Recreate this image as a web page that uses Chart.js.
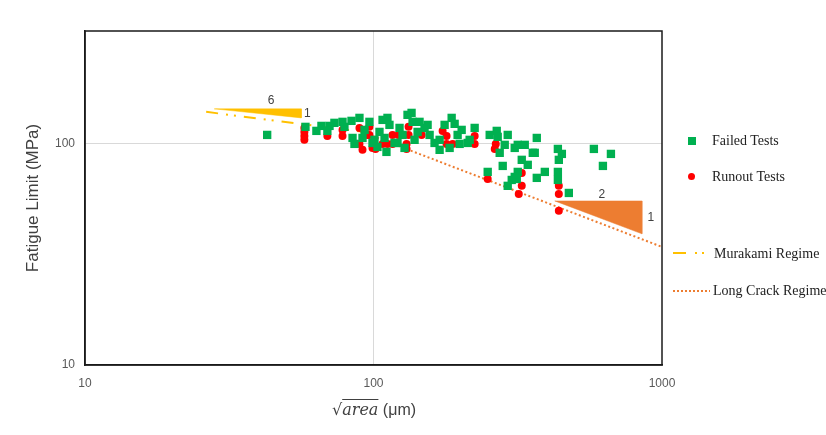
<!DOCTYPE html>
<html><head><meta charset="utf-8">
<script src="https://cdn.jsdelivr.net/npm/chart.js@4/dist/chart.umd.min.js"></script>
<style>
body{margin:0;background:#fff;}
#wrap{position:relative;width:826px;height:435px;overflow:hidden;}
canvas{position:absolute;left:0;top:0;}
.lg{position:absolute;font-family:'Liberation Serif',serif;font-size:14px;color:#222;line-height:16px;white-space:nowrap;}
.sym{position:absolute;}
#xt{position:absolute;left:332px;top:400px;font-family:'Liberation Sans',sans-serif;font-size:16px;color:#404040;white-space:nowrap;line-height:20px;}
</style></head>
<body><div id="wrap">
<canvas id="c" width="826" height="435"></canvas>
<div class="sym" style="left:688px;top:137px;width:8px;height:8px;background:#00B050"></div>
<div class="lg" style="left:712px;top:133px">Failed Tests</div>
<div class="sym" style="left:688px;top:173px;width:7px;height:7px;border-radius:50%;background:#FF0000"></div>
<div class="lg" style="left:712px;top:169px">Runout Tests</div>
<svg class="sym" style="left:670px;top:248px" width="44" height="10"><line x1="3" y1="5" x2="40" y2="5" stroke="#FFC000" stroke-width="2" stroke-dasharray="13,9,2,5,2,20"/></svg>
<div class="lg" style="left:714px;top:246px">Murakami Regime</div>
<svg class="sym" style="left:670px;top:286px" width="44" height="10"><line x1="3" y1="5" x2="40" y2="5" stroke="#ED7D31" stroke-width="2" stroke-dasharray="2,2"/></svg>
<div class="lg" style="left:713px;top:283px">Long Crack Regime</div>
<div id="xt"><span style="font-family:'DejaVu Serif',serif;">√</span><span style="font-family:'DejaVu Serif',serif;font-style:italic;text-decoration:overline;">area</span> (μm)</div>
</div>
<script>
// ---- data ----
const failedSize = [42.8,58.1,63.4,66.0,70.4,69.2,73.2,78.1,79.3,83.9,89.4,96.8,93.1,85.9,84.6,91.6,99.2,
  107.5,111.8,113.6,104.9,100.8,109.2,110.9,103.2,126.1,123.1,131.2,135.5,136.6,144.4,150.3,154.0,142.2,121.1,118.3,128.1,138.8,
  156.5,162.8,169.5,169.5,176.4,186.6,191.1,183.6,195.7,202.1,198.9,212.1,215.4,224.2,252.8,267.4,269.5,291.9,285.0,273.8,
  308.7,316.2,334.4,368.1,362.2,356.5,326.5,342.5,280.5,248.8,316.2,308.7,301.4,313.7,291.9,368.1,392.5,
  435.6,449.7,438.9,435.6,435.6,475.5,580.6,665.2,624.0];
const failedLimit = [109.8,119.4,114.5,120.6,120.6,114.5,124.5,125.8,119.4,127.1,131.1,125.8,115.7,100,106.4,106.4,101.0,
  128.4,131.1,121.9,113.3,104.3,106.4,92.0,96.9,109.8,118.1,135.3,138.1,125.8,125.8,118.1,121.9,113.3,101.0,101.0,95.9,104.3,
  109.8,101.0,94.0,104.3,121.9,131.1,123.2,95.9,109.8,115.7,100,101.0,104.3,118.1,109.8,114.5,107.6,109.8,99.0,91.1,
  95.9,99.0,99.0,106.4,91.1,91.1,84.7,80.4,79.5,74.7,74.7,70.9,68.7,69.4,64.6,70.2,74.7,
  94.9,90.1,84.7,74.7,68.7,60.0,94.9,90.1,79.5];
const runoutSize = [57.6,57.6,57.6,57.6,69.2,78.1,78.1,89.4,96.8,95.3,89.4,91.6,99.2,96.8,101.6,107.5,111.8,116.4,116.4,122.1,
  132.3,132.3,130.2,130.2,146.8,173.6,179.2,179.2,188.1,224.2,224.2,265.3,263.2,248.8,326.5,326.5,318.8,438.9,438.9,438.9];
const runoutLimit = [118.1,113.3,108.7,104.3,108.7,115.7,108.7,118.1,119.4,109.8,100,94.0,95.9,109.8,94.9,100,100,100,109.8,109.8,
  119.4,109.8,100,94.9,109.8,114.5,108.7,100,100,108.7,100,100,94.9,69.4,73.9,64.6,59.4,64.6,59.4,49.8];
const murakamiSize = [26.3, 96];
const murakamiLimit = [139.6, 112.5];
const longCrackSize = [90, 1000];
const longCrackLimit = [114, 34.2];
const triMurakamiSize = [28.05, 56.2, 56.2, 28.05];
const triMurakamiLimit = [144, 144, 131.1, 144];
const triLongSize = [425, 852, 852, 425];
const triLongLimit = [55.2, 55.2, 39.2, 55.2];
const slopeText = ['6', '1', '2', '1'];
const slopeTextSize = [44.2, 59.0, 619, 915.6];
const slopeTextLimit = [156.5, 136.7, 58.8, 46.3];
const xTicks = [10, 100, 1000];
const yTicks = [10, 100];

const pts = (xs, ys) => xs.map((v, i) => ({x: v, y: ys[i]}));

const deco = {
  id: 'deco',
  afterDatasetsDraw(chart) {
    const {ctx, chartArea: a, scales: {x, y}} = chart;
    ctx.save();
    ctx.fillStyle = '#404040';
    ctx.font = '12px "Liberation Sans"';
    ctx.textAlign = 'center';
    ctx.textBaseline = 'middle';
    slopeText.forEach((t, i) => ctx.fillText(t, x.getPixelForValue(slopeTextSize[i]), y.getPixelForValue(slopeTextLimit[i])));
    ctx.strokeStyle = '#1a1a1a';
    ctx.lineWidth = 1.5;
    ctx.strokeRect(a.left, a.top, a.right - a.left, a.bottom - a.top);
    ctx.restore();
  }
};

const tickFont = {family: 'Liberation Sans', size: 12};
new Chart(document.getElementById('c'), {
  type: 'scatter',
  data: {
    datasets: [
      {label: 'Failed Tests', data: pts(failedSize, failedLimit), pointStyle: 'rect', pointRadius: 5.9,
       backgroundColor: '#00B050', borderColor: '#00B050', borderWidth: 0},
      {label: 'Runout Tests', data: pts(runoutSize, runoutLimit), pointStyle: 'circle', pointRadius: 4,
       backgroundColor: '#FF0000', borderColor: '#FF0000', borderWidth: 0},
      {label: 'tri1', data: pts(triMurakamiSize, triMurakamiLimit), showLine: true, fill: 'shape', pointRadius: 0,
       backgroundColor: '#FFC000', borderColor: '#FFC000', borderWidth: 0.5, tension: 0},
      {label: 'tri2', data: pts(triLongSize, triLongLimit), showLine: true, fill: 'shape', pointRadius: 0,
       backgroundColor: '#ED7D31', borderColor: '#ED7D31', borderWidth: 0.5, tension: 0},
      {label: 'Murakami Regime', data: pts(murakamiSize, murakamiLimit), showLine: true, pointRadius: 0,
       borderColor: '#FFC000', borderWidth: 2, borderDash: [12, 8, 2, 6, 2, 8], fill: false},
      {label: 'Long Crack Regime', data: pts(longCrackSize, longCrackLimit), showLine: true, pointRadius: 0,
       borderColor: '#ED7D31', borderWidth: 2, borderDash: [2, 2.5], fill: false}
    ]
  },
  options: {
    responsive: false,
    animation: false,
    devicePixelRatio: 1,
    layout: {padding: {left: 0, top: 31, right: 164, bottom: 0}},
    plugins: {legend: {display: false}, tooltip: {enabled: false}},
    scales: {
      x: {
        type: 'logarithmic', min: 10, max: 1000,
        afterBuildTicks: s => { s.ticks = xTicks.map(v => ({value: v})); },
        afterFit: s => { s.height = 70; },
        ticks: {autoSkip: false, maxRotation: 0, padding: 11, color: '#595959', font: tickFont, callback: v => String(v)},
        grid: {drawTicks: false, color: c => (c.tick && c.tick.value === 100) ? '#d9d9d9' : 'rgba(0,0,0,0)'},
        border: {display: true, color: '#1a1a1a', width: 1.5},
        title: {display: false}
      },
      y: {
        type: 'logarithmic', min: 10, max: 324,
        afterBuildTicks: s => { s.ticks = yTicks.map(v => ({value: v})); },
        afterFit: s => { s.width = 85; },
        ticks: {autoSkip: false, padding: 10, color: '#595959', font: tickFont, callback: v => String(v)},
        grid: {drawTicks: false, color: c => (c.tick && c.tick.value === 100) ? '#d9d9d9' : 'rgba(0,0,0,0)'},
        border: {display: true, color: '#1a1a1a', width: 1.5},
        title: {display: true, text: 'Fatigue Limit (MPa)', color: '#404040',
                font: {family: 'Liberation Sans', size: 17}, padding: {top: 23, bottom: 0}}
      }
    }
  },
  plugins: [deco]
});
</script>
</body></html>
